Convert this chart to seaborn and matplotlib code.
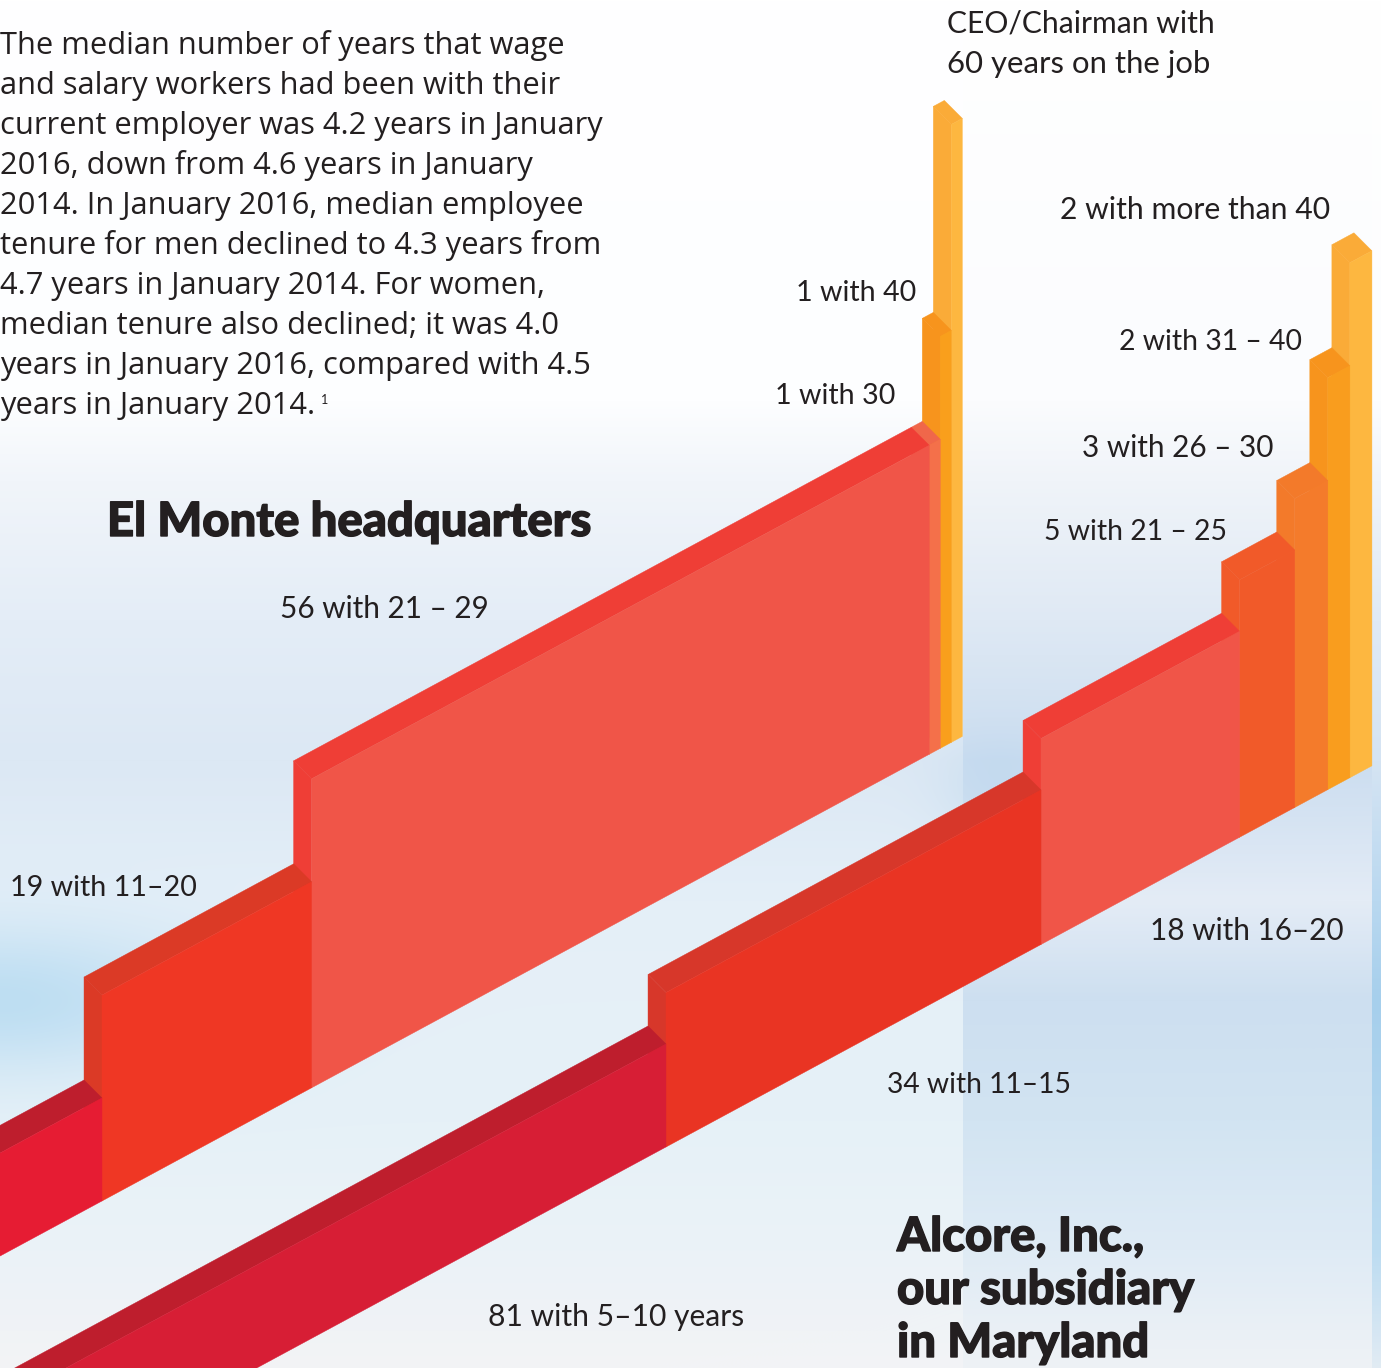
import numpy as np
import matplotlib
matplotlib.use("Agg")
import matplotlib.pyplot as plt
import matplotlib.patheffects as pe
from matplotlib.colors import to_rgb
from matplotlib.transforms import Affine2D
import seaborn as sns

sns.set_theme(style="white")
plt.rcParams["font.family"] = ["Lato", "DejaVu Sans"]

INK = "#231F20"

# Headcount and tenure height of each step, El Monte headquarters
hq_people = [24, 19, 56, 1, 1, 1]
hq_years = [10, 20, 30, 30, 40, 60]
hq_front = ["#E61C33", "#EF3724", "#F05548", "#F4704A", "#F99F1C", "#FDB740"]
hq_side = ["#BE1E2D", "#DB3A26", "#EF3E36", "#F0674A", "#F7941D", "#FAAB38"]

# Headcount and tenure height of each step, Alcore, Inc.
md_people = [81, 34, 18, 5, 3, 2, 2]
md_years = [10, 15, 20, 25, 30, 40, 50]
md_front = ["#D71E35", "#E93423", "#F05548", "#F15A29", "#F47B2B", "#F99D1E", "#FDB740"]
md_side = ["#BE1E2D", "#D7372A", "#EF3E36", "#F15A29", "#F37A2A", "#F7941D", "#FAAB38"]

body_lines = [
    "The median number of years that wage",
    "and salary workers had been with their",
    "current employer was 4.2 years in January",
    "2016, down from 4.6 years in January",
    "2014. In January 2016, median employee",
    "tenure for men declined to 4.3 years from",
    "4.7 years in January 2014. For women,",
    "median tenure also declined; it was 4.0",
    "years in January 2016, compared with 4.5",
    "years in January 2014.",
]

label_texts = [
    "CEO/Chairman with", "60 years on the job", "2 with more than 40", "1 with 40",
    "2 with 31 – 40", "1 with 30", "3 with 26 – 30", "5 with 21 – 25", "56 with 21 – 29",
    "19 with 11–20", "18 with 16–20", "34 with 11–15", "81 with 5–10 years",
]
label_x = [947, 947, 1060, 796, 1119, 775, 1082, 1044, 280, 10, 1150, 887, 488]
label_y = [33, 73, 219, 301, 350, 404, 457, 540, 618, 896, 940, 1093, 1326]
label_size = [21.6, 22.4, 21.7, 20.6, 20.4, 20.6, 21.4, 20.4, 21.4, 20.6, 21.4, 20.3, 21.6]

heading_texts = ["El Monte headquarters", "Alcore, Inc.,", "our subsidiary", "in Maryland"]
heading_x = [107, 897, 897, 897]
heading_y = [536, 1251, 1304, 1357]

# Sky backdrop colour stops: height on the page, then colour
sky_y = [0, 400, 480, 620, 760, 900, 1000, 1120, 1250, 1330, 1368]
sky_main = ["#FFFFFF", "#FDFEFF", "#F1F5FA", "#E4EDF7", "#DCE8F4", "#E4EFF8", "#E6F0F8",
            "#E6F1F8", "#EBF3F8", "#F0F3F6", "#F3F4F6"]
sky_band = ["#FFFFFF", "#FBFCFE", "#F0F4F9", "#DFE9F4", "#CBDDF0", "#E4ECF6", "#CDDFF0",
            "#D2E4F2", "#DFEBF5", "#EAF0F5", "#EEF2F5"]
sky_edge = ["#FFFFFF", "#FCFDFE", "#F0F4F9", "#E0EAF5", "#D5E4F3", "#B9D8F0", "#A6CFEC",
            "#AFD4EE", "#BCDCF1", "#D5E6F3", "#E2ECF4"]

PX_PER_PERSON = 11.03
PX_PER_YEAR = 10.3
FLOOR_RISE = 0.54
DEPTH_PEOPLE = -1.63
DEPTH_YEARS = 2.69


def ramp(colours):
    rgb = np.array([to_rgb(c) for c in colours])
    rows = np.arange(1368)
    return np.stack([np.interp(rows, sky_y, rgb[:, k]) for k in range(3)], axis=1)


def sky():
    img = np.repeat(ramp(sky_main)[:, None, :], 1381, axis=1)
    img[:, 963:] = ramp(sky_band)[:, None, :]
    img[:, 1372:] = ramp(sky_edge)[:, None, :]
    # Blue haze pooling behind the left-hand steps
    yy, xx = np.mgrid[0:1368, 0:1381]
    haze = 0.8 * np.exp(-((xx / 220.0) ** 2) - (((yy - 1000) / 75.0) ** 2))
    tint = np.array(to_rgb("#B4DAF1"))
    img = img * (1 - haze[..., None]) + tint * haze[..., None]
    # A soft blue band above the lower steps, just right of the column edge
    band = 0.4 * np.exp(-(((xx - 1000) / 60.0) ** 2) - (((yy - 790) / 50.0) ** 2))
    tint2 = np.array(to_rgb("#B5D3EC"))
    img = img * (1 - band[..., None]) + tint2 * band[..., None]
    return np.clip(img, 0, 1)


def draw_steps(ax, people, years, fronts, sides, anchor_x, anchor_y):
    # Floor plane: x is headcount after the first step, y is years of tenure
    plane = Affine2D.from_values(
        PX_PER_PERSON, -FLOOR_RISE * PX_PER_PERSON, 0, -PX_PER_YEAR, anchor_x, anchor_y
    ) + ax.transData
    edges = np.cumsum(people) - people[0]
    front_colours = sns.color_palette(fronts, len(fronts))
    side_colours = sns.color_palette(sides, len(sides))
    # Tallest step first so each shorter step sits in front of its neighbour
    for i in range(len(people) - 1, -1, -1):
        left, right = edges[i] - people[i], edges[i]
        top = years[i]
        ax.fill(
            [left, left + DEPTH_PEOPLE, left + DEPTH_PEOPLE, left],
            [0, DEPTH_YEARS, top + DEPTH_YEARS, top],
            color=side_colours[i], lw=0.3, transform=plane, zorder=2,
        )
        ax.fill(
            [left, right, right + DEPTH_PEOPLE, left + DEPTH_PEOPLE],
            [top, top, top + DEPTH_YEARS, top + DEPTH_YEARS],
            color=side_colours[i], lw=0.3, transform=plane, zorder=2,
        )
        ax.bar(
            left, top, width=people[i], align="edge", color=front_colours[i],
            edgecolor=front_colours[i], linewidth=0.3, transform=plane, zorder=2,
        )


fig = plt.figure(figsize=(13.81, 13.68), dpi=100)
ax = fig.add_axes([0, 0, 1, 1])
ax.imshow(sky(), extent=(0, 1381, 1368, 0), aspect="auto", zorder=0, interpolation="bilinear")
ax.set_xlim(0, 1381)
ax.set_ylim(1368, 0)
ax.set_autoscale_on(False)
ax.axis("off")

draw_steps(ax, md_people, md_years, md_front, md_side, 666, 1147)
draw_steps(ax, hq_people, hq_years, hq_front, hq_side, 102, 1201)

for i, line in enumerate(body_lines):
    ax.text(0, 54 + 40 * i, line, fontsize=22.2, family=["Open Sans", "DejaVu Sans"], color=INK,
            va="baseline", ha="left", zorder=3)
ax.text(321, 404, "1", fontsize=9, color=INK, va="baseline", ha="left", zorder=3)

for text, x, y, size in zip(label_texts, label_x, label_y, label_size):
    ax.text(x, y, text, fontsize=size, color=INK, va="baseline", ha="left", zorder=3)

for text, x, y in zip(heading_texts, heading_x, heading_y):
    ax.text(x, y, text, fontsize=34, fontweight="black", color=INK, va="baseline", ha="left", zorder=3,
            path_effects=[pe.withStroke(linewidth=1.0, foreground=INK)])

fig.savefig("out.png", dpi=100)
